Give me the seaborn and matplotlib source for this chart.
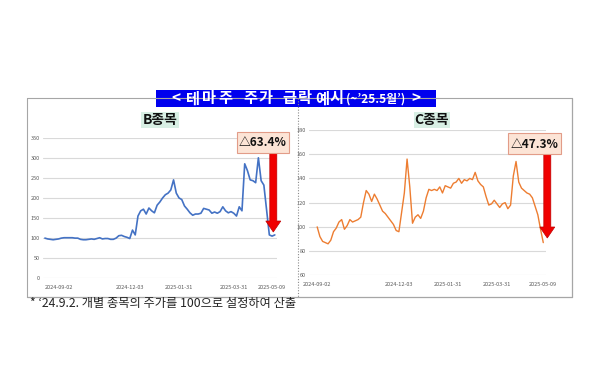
import matplotlib
matplotlib.use('Agg')
import matplotlib.pyplot as plt
import seaborn as sns
import pandas as pd
from matplotlib.patches import Rectangle, FancyArrow

# ---------------- data ----------------
tick_labels = ['2024-09-02', '2024-12-03', '2025-01-31', '2025-03-31', '2025-05-09']
b_tick_idx = [0, 31, 49, 69, 83]
c_tick_idx = [0, 30, 48, 66, 83]

b_values = [100, 98, 97, 96, 97, 98, 100, 101, 101, 101,
            101, 100, 100, 97, 96, 96, 97, 98, 97, 99,
            101, 98, 99, 99, 97, 97, 100, 106, 107, 104,
            102, 99, 120, 108, 155, 168, 172, 160, 175, 168,
            163, 182, 190, 200, 208, 212, 220, 245, 212, 200,
            196, 180, 172, 163, 157, 160, 160, 162, 174, 172,
            170, 162, 165, 162, 166, 178, 168, 163, 166, 162,
            155, 178, 168, 285, 268, 245, 243, 238, 300, 243,
            232, 170, 108, 105, 108]

c_values = [100, 92, 88, 87, 86, 89, 96, 99, 104, 106,
            98, 101, 106, 104, 105, 106, 108, 120, 130, 127,
            121, 127, 123, 118, 113, 111, 108, 105, 102, 97,
            96, 112, 128, 156, 133, 103, 108, 110, 107, 113,
            124, 131, 130, 131, 130, 133, 128, 134, 133, 132,
            136, 137, 140, 136, 139, 138, 140, 139, 145, 138,
            135, 133, 125, 118, 119, 122, 119, 116, 119, 120,
            115, 118, 142, 154, 137, 132, 130, 128, 127, 124,
            117, 110, 98, 87]

b_yticks = [0, 50, 100, 150, 200, 250, 300, 350]
c_yticks = [60, 80, 100, 120, 140, 160, 180]

title_main = '<테마주주가급락예시'
title_sub = '(~’25.5월’)'
title_end = '>'
b_name = 'B종목'
c_name = 'C종목'
b_drop = '△63.4%'
c_drop = '△47.3%'
footnote = '* ‘24.9.2. 개별 종목의 주가를 100으로 설정하여 산출'

# ---------------- style ----------------
sns.set_style('white')
plt.rcParams['font.family'] = ['Noto Sans CJK KR', 'DejaVu Sans']

W, H = 600, 375
fig = plt.figure(figsize=(6, 3.75), dpi=100)
fig.patch.set_facecolor('white')


def frac(x0, y0, x1, y1):
    return [x0 / W, 1 - y1 / H, (x1 - x0) / W, (y1 - y0) / H]


def style_axis(ax, yticks, ylim, ticks_idx, xlim, xpad):
    ax.set_xlim(*xlim)
    ax.set_ylim(*ylim)
    ax.set_yticks(yticks)
    ax.set_xticks(ticks_idx)
    ax.set_xticklabels(tick_labels)
    ax.set_xlabel('')
    ax.set_ylabel('')
    for s in ax.spines.values():
        s.set_visible(False)
    ax.yaxis.grid(True, color='#D9D9D9', lw=0.8)
    ax.xaxis.grid(False)
    ax.set_axisbelow(True)
    ax.tick_params(axis='both', length=0, labelsize=4, colors='#595959')
    ax.tick_params(axis='y', pad=2.5)
    ax.tick_params(axis='x', pad=xpad)
    ax.patch.set_alpha(0)


# B chart
axB = fig.add_axes(frac(43, 137.7, 277, 278.3))
dfB = pd.DataFrame({'idx': range(len(b_values)), 'value': b_values})
sns.lineplot(data=dfB, x='idx', y='value', ax=axB, color='#4472C4', lw=1.2)
style_axis(axB, b_yticks, (0, 350), b_tick_idx, (-0.7, 84.8), 5)
axB.get_xticklabels()[0].set_ha('left')

# C chart
axC = fig.add_axes(frac(309, 130, 546, 275.3))
dfC = pd.DataFrame({'idx': range(len(c_values)), 'value': c_values})
sns.lineplot(data=dfC, x='idx', y='value', ax=axC, color='#ED7D31', lw=1.0)
style_axis(axC, c_yticks, (60, 180), c_tick_idx, (-3.0, 84.0), 5)

# ---------------- overlay (pixel coordinates) ----------------
ov = fig.add_axes([0, 0, 1, 1], zorder=10)
ov.set_xlim(0, W)
ov.set_ylim(H, 0)
ov.axis('off')
ov.patch.set_alpha(0)

bc = '#A6A6A6'
ov.plot([27.3, 572.3], [98.3, 98.3], color=bc, lw=0.8)
ov.plot([27.3, 572.3], [296.7, 296.7], color=bc, lw=0.9)
ov.plot([27.3, 27.3], [98.3, 296.7], color=bc, lw=0.8)
ov.plot([572.3, 572.3], [98.3, 296.7], color=bc, lw=0.9)
ov.plot([298, 298], [98.3, 296.7], color='#8C8C8C', lw=0.8, ls=(0, (1, 1.5)))

# title box (letter-spaced like the original)
ov.add_patch(Rectangle((156, 90), 280, 16.5, facecolor='#0000EE', edgecolor='none'))
char_x = [176, 193, 209, 225, 250, 266, 289, 305, 322, 337]
for ch, xc in zip(title_main, char_x):
    ov.text(xc, 98.3, ch, color='white', fontsize=11, fontweight='bold',
            ha='center', va='center')
ov.text(376, 99, title_sub, color='white', fontsize=8.5, fontweight='bold',
        ha='center', va='center')
ov.text(416, 98.3, title_end, color='white', fontsize=11, fontweight='bold',
        ha='center', va='center')

# stock names
for x, name in [(160, b_name), (432, c_name)]:
    ov.text(x, 120, name, fontsize=10, fontweight='bold', color='#111111',
            ha='center', va='center',
            bbox=dict(boxstyle='square,pad=0.08', facecolor='#D8EFE4', edgecolor='none'))

# drop boxes + arrows
for (bx0, by0, bw, bh, label, ax_x, ay1) in [
        (236.7, 132, 52.6, 21, b_drop, 273.3, 232),
        (507.7, 132.7, 53.3, 21.6, c_drop, 547.3, 238)]:
    ov.add_patch(FancyArrow(ax_x, by0 + bh, 0, ay1 - (by0 + bh), width=7,
                            head_width=15, head_length=11, length_includes_head=True,
                            facecolor='#F00000', edgecolor='#C00000', lw=0.5))
    ov.add_patch(Rectangle((bx0, by0), bw, bh, facecolor='#FCE4D6',
                           edgecolor='#E29C88', lw=0.8))
    ov.text(bx0 + bw / 2, by0 + bh / 2 + 0.5, label, fontsize=8.5, fontweight='bold',
            color='#111111', ha='center', va='center')

# footnote
ov.text(30, 304, footnote, fontsize=8.8, color='#222222', ha='left', va='center')

fig.savefig('out.png', dpi=100, facecolor='white')
